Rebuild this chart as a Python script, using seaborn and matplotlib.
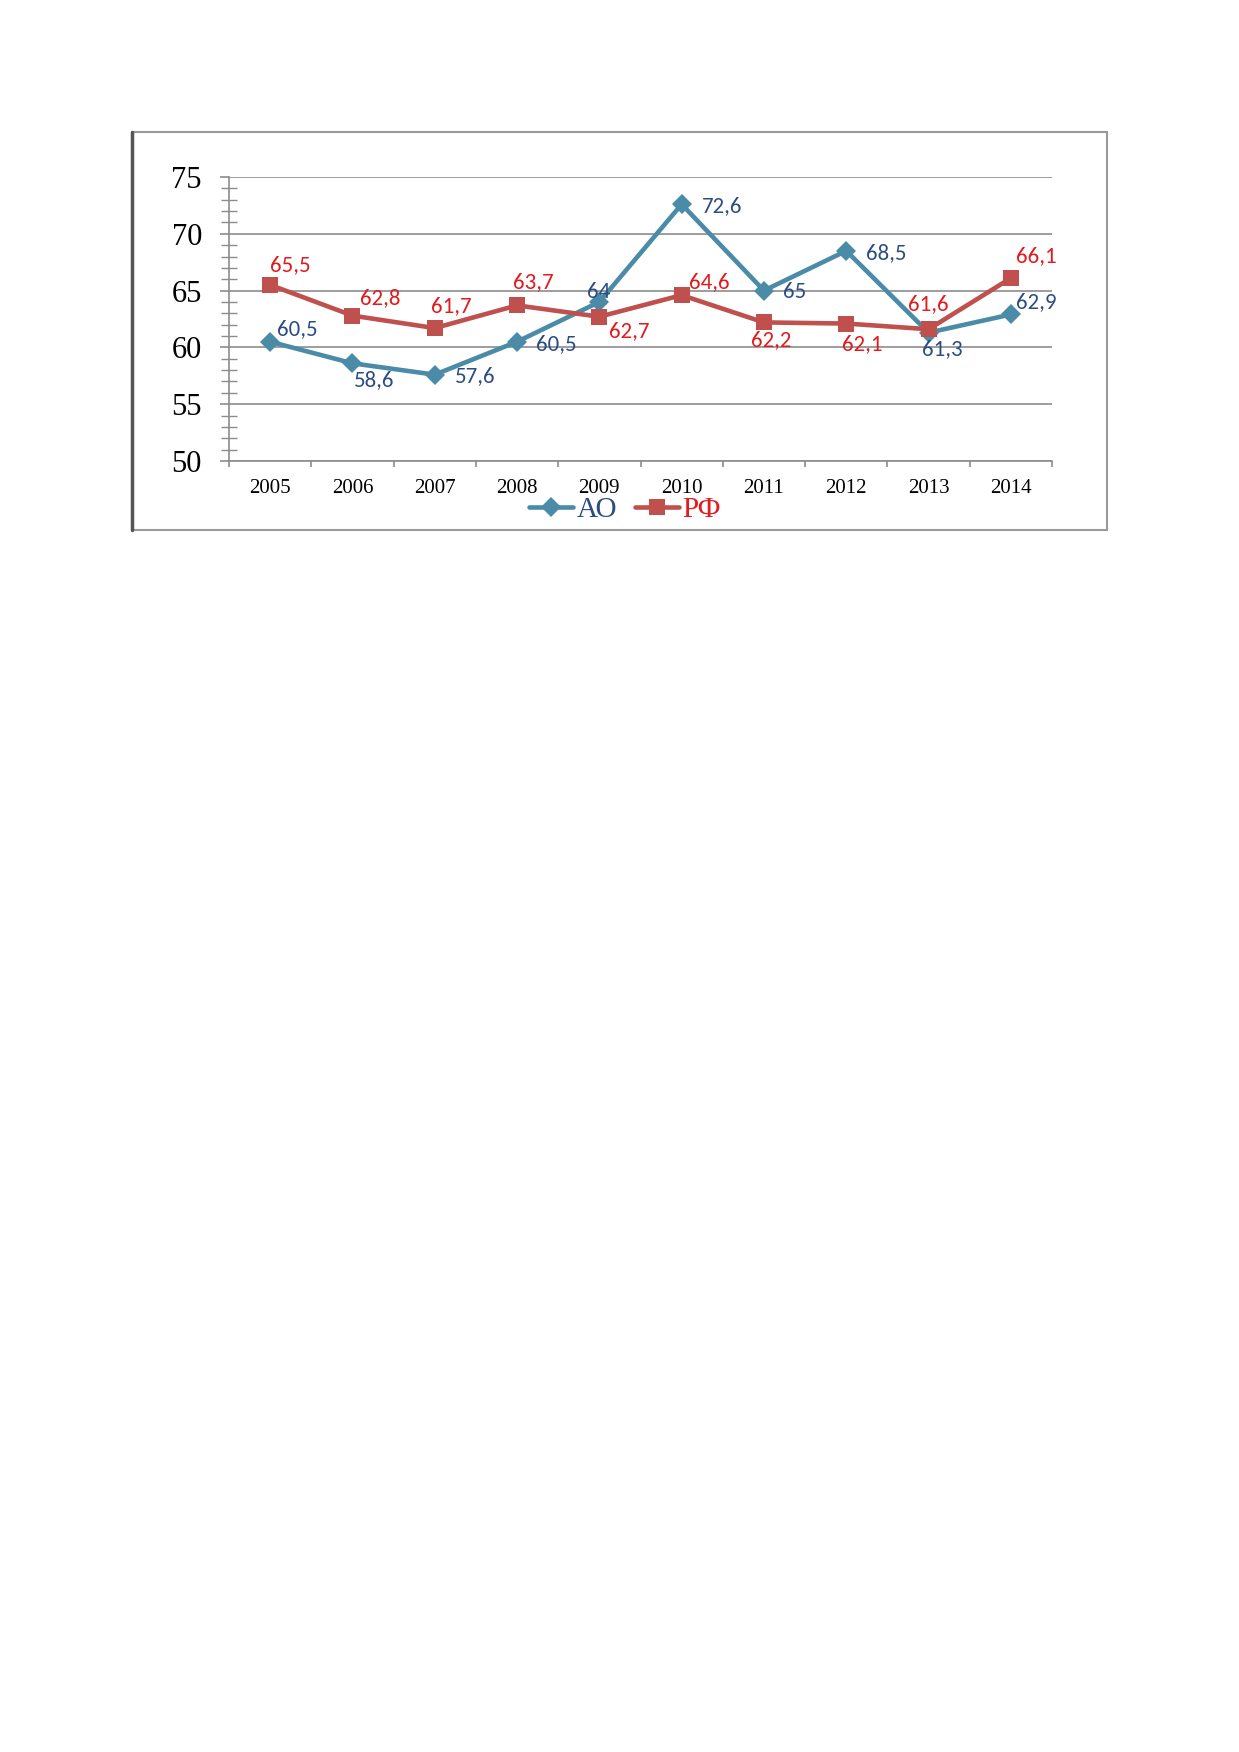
import numpy as np
import pandas as pd
import matplotlib
matplotlib.use("Agg")
import matplotlib.pyplot as plt
from matplotlib.patches import Rectangle
from matplotlib.lines import Line2D
from matplotlib.ticker import MultipleLocator, FixedLocator
import seaborn as sns

# данные
years = ['2005', '2006', '2007', '2008', '2009', '2010', '2011', '2012', '2013', '2014']
ao = [60.5, 58.6, 57.6, 60.5, 64, 72.6, 65, 68.5, 61.3, 62.9]
rf = [65.5, 62.8, 61.7, 63.7, 62.7, 64.6, 62.2, 62.1, 61.6, 66.1]
series_names = ['АО', 'РФ']

# подписи: сдвиг в пикселях и выравнивание
ao_offsets = [(7, 13, 'left'), (2, -17, 'left'), (20, -1, 'left'), (19, -2, 'left'),
              (-1, 10, 'center'), (20, -2, 'left'), (19, -1, 'left'), (20, -2, 'left'),
              (-7, -16, 'left'), (5, 12, 'left')]
rf_offsets = [(0, 20, 'left'), (8, 17, 'left'), (-4, 22, 'left'), (-4, 23, 'left'),
              (10, -14, 'left'), (7, 13, 'left'), (-13, -18, 'left'), (-4, -21, 'left'),
              (-21, 25, 'left'), (5, 22, 'left')]

line_colors = {'АО': '#4A8CA8', 'РФ': '#C0504D'}
text_colors = {'АО': '#2B4C84', 'РФ': '#E3191B'}

df = pd.DataFrame({
    'year': years * 2,
    'value': ao + rf,
    'series': [series_names[0]] * len(years) + [series_names[1]] * len(years),
})

sns.set_style('white')
plt.rcParams['font.family'] = ['Liberation Serif', 'DejaVu Serif']

W, H = 1239, 1752
fig = plt.figure(figsize=(W / 100, H / 100), dpi=100)
ax = fig.add_axes([229 / W, 1 - 461 / H, 823 / W, 284 / H])

# рамка вокруг диаграммы
fig.patches.append(Rectangle((132 / W, 1 - 530 / H), (1107 - 132) / W, (530 - 132) / H,
                             transform=fig.transFigure, fill=False,
                             edgecolor='#9a9a9a', lw=1.5))
fig.lines.append(Line2D([132 / W, 132 / W], [1 - 530 / H, 1 - 132 / H],
                        transform=fig.transFigure, color='#555555', lw=2.5))

sns.lineplot(data=df, x='year', y='value', hue='series', style='series',
             palette=line_colors, markers={'АО': 'D', 'РФ': 's'}, dashes=False,
             linewidth=3.3, ax=ax)
for ln in ax.lines:
    if ln.get_marker() == 'D':
        ln.set_markersize(10.5)
    elif ln.get_marker() == 's':
        ln.set_markersize(12)
    ln.set_markeredgewidth(0)

ax.set_xlim(-0.5, len(years) - 0.5)
ax.set_ylim(50, 75)
ax.set_yticks(range(50, 80, 5))
ax.yaxis.set_minor_locator(MultipleLocator(1))
ax.xaxis.set_minor_locator(FixedLocator(np.arange(-0.5, len(years), 1)))
ax.set_xlabel('')
ax.set_ylabel('')

ax.grid(axis='y', color='#8c8c8c', lw=1.2)
ax.set_axisbelow(True)
for s in ['top', 'right']:
    ax.spines[s].set_visible(False)
ax.spines['left'].set_color('#8c8c8c')
ax.spines['bottom'].set_color('#8c8c8c')
ax.spines['left'].set_linewidth(1.2)
ax.spines['bottom'].set_linewidth(1.2)

ax.tick_params(axis='y', which='major', direction='out', length=6.5, width=1.2,
               color='#8c8c8c', labelsize=22, labelcolor='black', pad=13, left=True)
ax.tick_params(axis='y', which='minor', direction='inout', length=12, width=1,
               color='#8c8c8c', left=True)
ax.tick_params(axis='x', which='major', length=0, labelsize=15, labelcolor='black', pad=13)
ax.tick_params(axis='x', which='minor', direction='out', length=4, width=1.2,
               color='#8c8c8c', bottom=True)

# подписи значений
label_font = ['Carlito', 'Liberation Sans', 'DejaVu Sans']
for name, vals, offs in [('АО', ao, ao_offsets), ('РФ', rf, rf_offsets)]:
    for i, (v, (dx, dy, ha)) in enumerate(zip(vals, offs)):
        ax.annotate(f'{v:g}'.replace('.', ','), (i, v), xytext=(dx, dy),
                    textcoords='offset pixels', ha=ha, va='center',
                    fontsize=16.5, color=text_colors[name], family=label_font)

handles, labels = ax.get_legend_handles_labels()
leg = ax.legend(handles, labels, loc='center', bbox_to_anchor=(625 / W, 1 - 510 / H),
                bbox_transform=fig.transFigure, ncol=2, frameon=False,
                fontsize=21, handlelength=1.5, columnspacing=0.6, handletextpad=0.12,
                borderpad=0.1)
for t in leg.get_texts():
    t.set_color(text_colors[t.get_text()])

fig.savefig('out.png', dpi=100, facecolor='white')
